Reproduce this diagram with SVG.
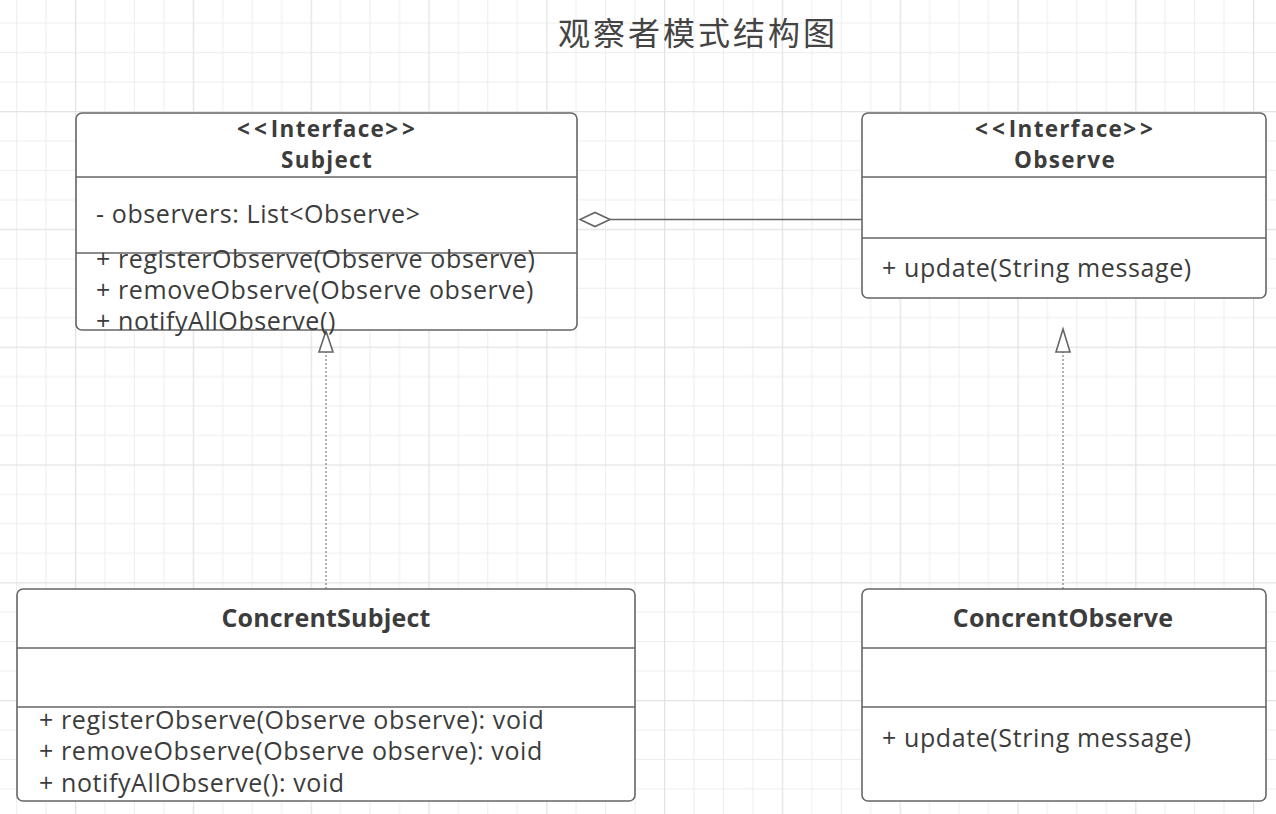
<svg xmlns="http://www.w3.org/2000/svg" width="1276" height="814" viewBox="0 0 1276 814">
<defs>
<pattern id="grid" patternUnits="userSpaceOnUse" x="75" y="111" width="117.8" height="117.8">
<rect x="29.45" y="0" width="1" height="117.8" fill="#ededed"/>
<rect x="58.9" y="0" width="1" height="117.8" fill="#ededed"/>
<rect x="88.35" y="0" width="1" height="117.8" fill="#ededed"/>
<rect x="0" y="29.45" width="117.8" height="1" fill="#ededed"/>
<rect x="0" y="58.9" width="117.8" height="1" fill="#ededed"/>
<rect x="0" y="88.35" width="117.8" height="1" fill="#ededed"/>
<rect x="0" y="0" width="1.3" height="117.8" fill="#e3e3e3"/>
<rect x="0" y="0" width="117.8" height="1.3" fill="#e3e3e3"/>
</pattern>
</defs>
<style>
.box{fill:#fff;stroke:#666;stroke-width:1.6}
.div{stroke:#666;stroke-width:1.6}
.t{font-family:"Open Sans","Noto Sans","Liberation Sans",sans-serif;font-size:25px;fill:#3c3c3c;letter-spacing:0.6px}
.b{font-weight:bold;text-anchor:middle;letter-spacing:0.2px}
.h{font-size:22.5px;letter-spacing:1.3px}
.title{font-family:"Noto Sans CJK SC",sans-serif;font-size:32px;fill:#444;text-anchor:middle;letter-spacing:3px}
.edge{fill:none;stroke:#666;stroke-width:1.6}
.head{fill:#fff;stroke:#666;stroke-width:1.6}
.dot{fill:none;stroke:#888;stroke-width:1.3;stroke-dasharray:2 2}
</style>
<rect x="0" y="0" width="1276" height="814" fill="#fff"/>
<rect x="0" y="0" width="1276" height="814" fill="url(#grid)"/>
<text class="title" x="698" y="45">观察者模式结构图</text>

<g id="connectors">
<line class="edge" x1="610" y1="219.5" x2="862" y2="219.5"/>
<path class="head" d="M580,219.5 L595,212.5 L610,219.5 L595,226.5 Z"/>
<line class="dot" x1="326" y1="589" x2="326" y2="352"/>
<path class="head" d="M326,331 L333,352 L319,352 Z"/>
<line class="dot" x1="1063" y1="589" x2="1063" y2="352"/>
<path class="head" d="M1063,329 L1070,352 L1056,352 Z"/>
</g>

<g id="subject">
<rect class="box" x="76" y="113" width="501" height="217" rx="6"/>
<line class="div" x1="76" y1="177" x2="577" y2="177"/>
<line class="div" x1="76" y1="253" x2="577" y2="253"/>
<text class="t b h" x="328" y="137"><tspan letter-spacing="4">&lt;&lt;</tspan>Interface<tspan letter-spacing="4">&gt;&gt;</tspan></text>
<text class="t b h" x="327" y="168">Subject</text>
<text class="t" x="96" y="223">- observers: List&lt;Observe&gt;</text>
<text class="t" x="96" y="268">+ registerObserve(Observe observe)</text>
<text class="t" x="96" y="299">+ removeObserve(Observe observe)</text>
<text class="t" x="96" y="330">+ notifyAllObserve()</text>
</g>

<g id="observe">
<rect class="box" x="862" y="113" width="404" height="185" rx="6"/>
<line class="div" x1="862" y1="177" x2="1266" y2="177"/>
<line class="div" x1="862" y1="238" x2="1266" y2="238"/>
<text class="t b h" x="1066" y="137"><tspan letter-spacing="4">&lt;&lt;</tspan>Interface<tspan letter-spacing="4">&gt;&gt;</tspan></text>
<text class="t b h" x="1065" y="168">Observe</text>
<text class="t" x="882" y="277">+ update(String message)</text>
</g>

<g id="concrentSubject">
<rect class="box" x="17" y="589" width="618" height="212" rx="6"/>
<line class="div" x1="17" y1="648" x2="635" y2="648"/>
<line class="div" x1="17" y1="707" x2="635" y2="707"/>
<text class="t b" x="326" y="627">ConcrentSubject</text>
<text class="t" x="39" y="729">+ registerObserve(Observe observe): void</text>
<text class="t" x="39" y="760">+ removeObserve(Observe observe): void</text>
<text class="t" x="39" y="792">+ notifyAllObserve(): void</text>
</g>

<g id="concrentObserve">
<rect class="box" x="862" y="589" width="404" height="212" rx="6"/>
<line class="div" x1="862" y1="648" x2="1266" y2="648"/>
<line class="div" x1="862" y1="707" x2="1266" y2="707"/>
<text class="t b" x="1063" y="627">ConcrentObserve</text>
<text class="t" x="882" y="747">+ update(String message)</text>
</g>
</svg>
